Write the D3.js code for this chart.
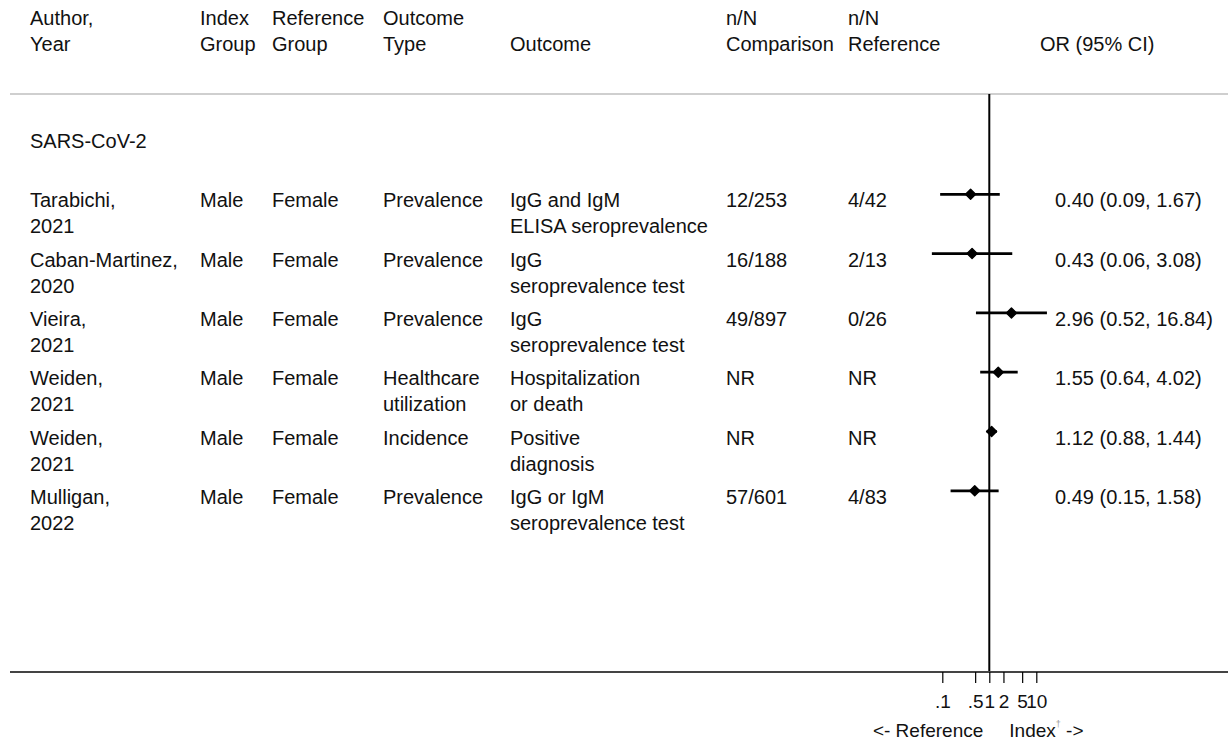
<!DOCTYPE html>
<html>
<head>
<meta charset="utf-8">
<script src="https://cdn.jsdelivr.net/npm/d3@7"></script>
<style>
  html, body { margin: 0; padding: 0; background: #fff; }
  svg text { font-family: "Liberation Sans", Arial, sans-serif; fill: #111; }
</style>
</head>
<body>
<svg id="chart" width="1228" height="742"></svg>
<script>
// Study rows
const authors = ["Tarabichi,", "Caban-Martinez,", "Vieira,", "Weiden,", "Weiden,", "Mulligan,"];
const years = ["2021", "2020", "2021", "2021", "2021", "2022"];
const indexGroup = ["Male", "Male", "Male", "Male", "Male", "Male"];
const referenceGroup = ["Female", "Female", "Female", "Female", "Female", "Female"];
const outcomeType = [["Prevalence"], ["Prevalence"], ["Prevalence"], ["Healthcare", "utilization"], ["Incidence"], ["Prevalence"]];
const outcome = [
  ["IgG and IgM", "ELISA seroprevalence"],
  ["IgG", "seroprevalence test"],
  ["IgG", "seroprevalence test"],
  ["Hospitalization", "or death"],
  ["Positive", "diagnosis"],
  ["IgG or IgM", "seroprevalence test"]
];
const nComparison = ["12/253", "16/188", "49/897", "NR", "NR", "57/601"];
const nReference = ["4/42", "2/13", "0/26", "NR", "NR", "4/83"];
const oddsRatio = [0.40, 0.43, 2.96, 1.55, 1.12, 0.49];
const ciLow = [0.09, 0.06, 0.52, 0.64, 0.88, 0.15];
const ciHigh = [1.67, 3.08, 16.84, 4.02, 1.44, 1.58];

const groupLabel = "SARS-CoV-2";
const tickValues = [0.1, 0.5, 1, 2, 5, 10];
const tickLabels = [".1", ".5", "1", "2", "5", "10"];

// Column headers: [x, line1, line2]
const headers = [
  [30, "Author,", "Year"],
  [200, "Index", "Group"],
  [272, "Reference", "Group"],
  [383, "Outcome", "Type"],
  [510, "", "Outcome"],
  [726, "n/N", "Comparison"],
  [848, "n/N", "Reference"],
  [1040, "", "OR (95% CI)"]
];

const svg = d3.select("#chart");
const FS = 20;

const x = d3.scaleLog().domain([0.1, 10]).range([942.3, 1036.3]);
// row index -> vertical centre of the estimate; -1 is the subgroup title row
const y = d3.scaleLinear().domain([0, 1]).range([194.3, 253.6]);
const lineGap = 26;
const baseOff = 13;
const axisY = 672;
const topRuleY = 94;

// header text
const hdr = svg.append("g");
headers.forEach(([hx, l1, l2]) => {
  if (l1) hdr.append("text").attr("x", hx).attr("y", 25).attr("font-size", FS).text(l1);
  hdr.append("text").attr("x", hx).attr("y", 51).attr("font-size", FS).text(l2);
});

// rule under header
svg.append("line").attr("x1", 10).attr("x2", 1228).attr("y1", topRuleY).attr("y2", topRuleY)
  .attr("stroke", "#cfcfcf").attr("stroke-width", 2);

// subgroup title
svg.append("text").attr("x", 30).attr("y", y(-1) + baseOff).attr("font-size", FS).text(groupLabel);

// table body
const rows = svg.append("g").selectAll("g").data(authors).join("g");
const cols = [
  [30, (d, i) => [authors[i], years[i]]],
  [200, (d, i) => [indexGroup[i]]],
  [272, (d, i) => [referenceGroup[i]]],
  [383, (d, i) => outcomeType[i]],
  [510, (d, i) => outcome[i]],
  [726, (d, i) => [nComparison[i]]],
  [848, (d, i) => [nReference[i]]]
];
cols.forEach(([cx, fn]) => {
  rows.each(function (d, i) {
    fn(d, i).forEach((t, k) => {
      d3.select(this).append("text")
        .attr("x", cx).attr("y", y(i) + baseOff + k * lineGap)
        .attr("font-size", FS).text(t);
    });
  });
});

// OR labels derived from the same values as the marks
const f2 = d3.format(".2f");
rows.append("text")
  .attr("x", 1055).attr("y", (d, i) => y(i) + baseOff)
  .attr("font-size", FS)
  .text((d, i) => `${f2(oddsRatio[i])} (${f2(ciLow[i])}, ${f2(ciHigh[i])})`);

// null line
svg.append("line").attr("x1", x(1)).attr("x2", x(1)).attr("y1", topRuleY).attr("y2", axisY)
  .attr("stroke", "#000").attr("stroke-width", 2);

// confidence intervals
rows.append("line")
  .attr("x1", (d, i) => x(ciLow[i])).attr("x2", (d, i) => x(ciHigh[i]))
  .attr("y1", (d, i) => y(i)).attr("y2", (d, i) => y(i))
  .attr("stroke", "#000").attr("stroke-width", 2.8);

// point estimates
const diamond = d3.symbol().type(d3.symbolDiamond2).size(64);
rows.append("path")
  .attr("d", diamond)
  .attr("transform", (d, i) => `translate(${x(oddsRatio[i])},${y(i)})`)
  .attr("fill", "#000").attr("stroke", "#000").attr("stroke-width", 1.4)
  .attr("stroke-linejoin", "round");

// bottom axis
svg.append("line").attr("x1", 10).attr("x2", 1228).attr("y1", axisY).attr("y2", axisY)
  .attr("stroke", "#444").attr("stroke-width", 2);

const axis = d3.axisBottom(x).tickValues(tickValues)
  .tickFormat((d, i) => tickLabels[i]).tickSize(11).tickPadding(12).tickSizeOuter(0);
const ag = svg.append("g").attr("transform", `translate(0,${axisY})`).call(axis);
ag.select(".domain").remove();
ag.selectAll(".tick line").attr("stroke", "#000").attr("stroke-width", 1.2);
ag.selectAll(".tick text").attr("font-size", 19).attr("fill", "#111")
  .attr("font-family", '"Liberation Sans", Arial, sans-serif');

// direction labels
svg.append("text").attr("x", x(1) - 6).attr("y", 737).attr("font-size", 19)
  .attr("text-anchor", "end").text("<- Reference");
const idx = svg.append("text").attr("x", x(1) + 20).attr("y", 737).attr("font-size", 19);
idx.append("tspan").text("Index");
idx.append("tspan").attr("dy", -10).attr("font-size", 9).attr("fill", "#999").text("\u2020");
idx.append("tspan").attr("dy", 10).text(" ->");
</script>
</body>
</html>
